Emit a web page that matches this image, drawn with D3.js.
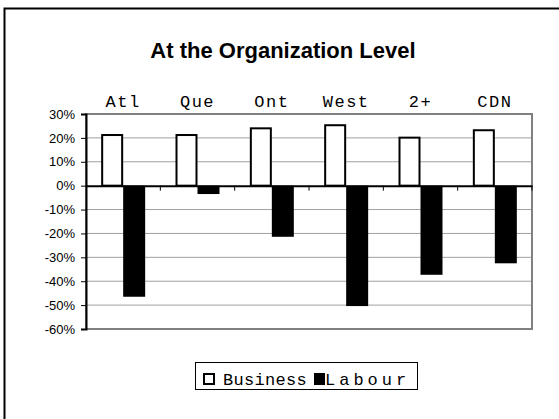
<!DOCTYPE html>
<html><head><meta charset="utf-8">
<script src="https://cdn.jsdelivr.net/npm/d3@7"></script>
<style>
html,body{margin:0;padding:0;background:#fff;overflow:hidden}
</style></head>
<body>
<script>
const categories = ["Atl", "Que", "Ont", "West", "2+", "CDN"];
const seriesNames = ["Business", "Labour"];
const business = [21.2, 21.2, 24.0, 25.3, 20.1, 23.2];
const labour = [-46.5, -3.5, -21.4, -50.4, -37.3, -32.5];
const yTicks = [30, 20, 10, 0, -10, -20, -30, -40, -50, -60];
const title = "At the Organization Level";

const W = 559, H = 419;
const plot = {left: 86, right: 532, top: 114, bottom: 329};

const svg = d3.select("body").append("svg").attr("width", W).attr("height", H);

// outer chart border (extends beyond the window on right/bottom)
svg.append("rect").attr("x", 4.5).attr("y", 8.5).attr("width", 600).attr("height", 500)
  .attr("fill", "#fff").attr("stroke", "#000").attr("stroke-width", 2);

svg.append("text").attr("x", 283).attr("y", 58).attr("text-anchor", "middle")
  .attr("font-family", "Liberation Sans, Arial, sans-serif").attr("font-weight", "bold")
  .attr("font-size", 22).text(title);

const x0 = d3.scaleBand().domain(categories).range([plot.left, plot.right]).paddingInner(0).paddingOuter(0);
const x1 = d3.scaleBand().domain(seriesNames).range([0, x0.bandwidth()]).paddingInner(0).paddingOuter(0.69);
const y = d3.scaleLinear().domain([-60, 30]).range([plot.bottom, plot.top]);

// gridlines
svg.append("g").selectAll("line").data(yTicks.filter(t => t !== 0 && t !== 30 && t !== -60)).join("line")
  .attr("x1", plot.left).attr("x2", plot.right)
  .attr("y1", d => y(d)).attr("y2", d => y(d))
  .attr("stroke", "#a0a0a0").attr("stroke-width", 1);

// plot border (grey)
svg.append("rect").attr("x", plot.left).attr("y", plot.top)
  .attr("width", plot.right - plot.left).attr("height", plot.bottom - plot.top)
  .attr("fill", "none").attr("stroke", "#808080").attr("stroke-width", 2);

// bars
const rows = categories.map((c, i) => ({c, vals: [business[i], labour[i]]}));
const g = svg.append("g").selectAll("g").data(rows).join("g")
  .attr("transform", d => `translate(${x0(d.c)},0)`);
g.selectAll("rect").data(d => d.vals.map((v, j) => ({s: seriesNames[j], v}))).join("rect")
  .attr("x", d => x1(d.s) + (d.s === "Business" ? 1 : 0))
  .attr("width", d => x1.bandwidth() - (d.s === "Business" ? 2 : 0))
  .attr("y", d => Math.min(y(d.v), y(0)))
  .attr("height", d => Math.abs(y(d.v) - y(0)))
  .attr("fill", d => d.s === "Business" ? "#fff" : "#000")
  .attr("stroke", d => d.s === "Business" ? "#000" : "none")
  .attr("stroke-width", 2);

// y axis
const yAxis = d3.axisLeft(y).tickValues(yTicks).tickSize(5).tickPadding(6).tickFormat(d => d + "%");
const ya = svg.append("g").attr("transform", `translate(${plot.left},0)`).call(yAxis);
ya.select(".domain").attr("stroke", "#000").attr("stroke-width", 2);
ya.selectAll(".tick line").attr("stroke", "#000");
ya.selectAll("text").attr("font-family", "Liberation Sans, Arial, sans-serif").attr("font-size", 13).attr("fill", "#000");

// zero line with category ticks
const xAxis = d3.axisBottom(x0).tickSize(0).tickFormat("");
const xa = svg.append("g").attr("transform", `translate(0,${y(0)})`).call(xAxis);
xa.select(".domain").attr("stroke", "#000").attr("stroke-width", 2);
svg.append("g").selectAll("line").data(categories).join("line")
  .attr("x1", d => x0(d) + x0.bandwidth()).attr("x2", d => x0(d) + x0.bandwidth())
  .attr("y1", y(0)).attr("y2", y(0) + 5).attr("stroke", "#000").attr("stroke-width", 1);

// category labels on top
svg.append("g").selectAll("text").data(categories).join("text")
  .attr("x", d => x0(d) + x0.bandwidth() / 2).attr("y", 107)
  .attr("text-anchor", "middle")
  .attr("font-family", "Liberation Mono, Courier New, monospace").attr("font-size", 17)
  .attr("letter-spacing", 1.5).text(d => d);

// legend
const lg = svg.append("g");
lg.append("rect").attr("x", 195.5).attr("y", 362.5).attr("width", 222).attr("height", 27)
  .attr("fill", "#fff").attr("stroke", "#000").attr("stroke-width", 1);
const legendItems = [{s: "Business", x: 203}, {s: "Labour", x: 314}];
lg.selectAll("rect.sw").data(legendItems).join("rect").attr("class", "sw")
  .attr("x", d => d.x + (d.s === "Business" ? 1 : 0)).attr("y", d => d.s === "Business" ? 374 : 373)
  .attr("width", d => d.s === "Business" ? 10 : 11).attr("height", d => d.s === "Business" ? 10 : 12)
  .attr("fill", d => d.s === "Business" ? "#fff" : "#000")
  .attr("stroke", d => d.s === "Business" ? "#000" : "none").attr("stroke-width", 2);
lg.selectAll("text").data(legendItems).join("text")
  .attr("x", d => d.x + (d.s === "Business" ? 20 : 11)).attr("y", 385)
  .attr("font-family", "Liberation Mono, Courier New, monospace").attr("font-size", 17)
  .attr("letter-spacing", d => d.s === "Business" ? 0.3 : 4)
  .text(d => d.s);
</script>
</body></html>
